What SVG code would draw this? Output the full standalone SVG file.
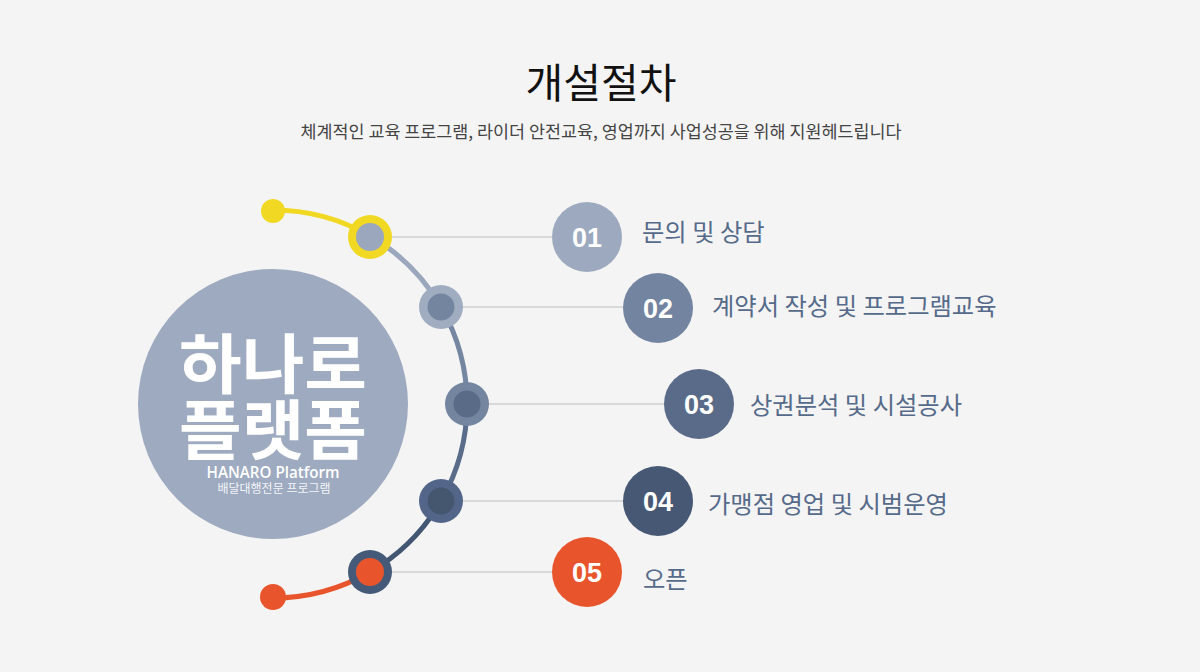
<svg xmlns="http://www.w3.org/2000/svg" width="1200" height="672" viewBox="0 0 1200 672">
<style>
.kr{font-family:"Noto Sans CJK KR","Noto Sans",sans-serif}
.title{font-size:41px;fill:#111}
.sub{font-size:17px;fill:#444}
.lbl{font-size:24.3px;fill:#566a8a}
.num{font-family:"Liberation Sans",Arial,sans-serif;font-weight:bold;font-size:27px;fill:#fff;text-anchor:middle}
.guide{stroke:#d9d9d9;stroke-width:2}
.arc{fill:none;stroke-width:5;stroke-linecap:round}
.logo{font-family:"Noto Sans CJK KR","Noto Sans",sans-serif;fill:#fff;text-anchor:middle}
</style>
<rect width="1200" height="672" fill="#f4f4f4"/>
<g id="header">
<text class="kr title" x="601" y="98" text-anchor="middle">개설절차</text>
<text class="kr sub" x="601" y="138" text-anchor="middle" textLength="601" lengthAdjust="spacingAndGlyphs">체계적인 교육 프로그램, 라이더 안전교육, 영업까지 사업성공을 위해 지원헤드립니다</text>
</g>
<g id="center-logo">
<circle cx="273" cy="404" r="135" fill="#9eaabf"/>
<text class="logo" x="273" y="388" font-size="65" font-weight="bold" textLength="188" lengthAdjust="spacingAndGlyphs">하나로</text>
<text class="logo" x="273" y="454" font-size="65" font-weight="bold" textLength="188" lengthAdjust="spacingAndGlyphs">플랫폼</text>
<text class="logo" x="273" y="478" font-size="16" font-weight="600" textLength="133" lengthAdjust="spacingAndGlyphs" style="font-family:'Open Sans','Noto Sans',sans-serif">HANARO Platform</text>
<text class="logo" x="274" y="493" font-size="12" fill-opacity="0.9">배달대행전문 프로그램</text>
</g>
<g id="connectors">
<line class="guide" x1="370" y1="237" x2="552" y2="237"/>
<line class="guide" x1="441" y1="307" x2="623" y2="307"/>
<line class="guide" x1="467" y1="404" x2="664" y2="404"/>
<line class="guide" x1="441" y1="501" x2="623" y2="501"/>
<line class="guide" x1="370" y1="572" x2="552" y2="572"/>
<path class="arc" stroke="#f1d923" d="M273,210 A194,194 0 0 1 370,236"/>
<path class="arc" stroke="#9aa7bc" d="M370,236 A194,194 0 0 1 441,307"/>
<path class="arc" stroke="#7486a0" d="M441,307 A194,194 0 0 1 467,404"/>
<path class="arc" stroke="#5a6c89" d="M467,404 A194,194 0 0 1 441,501"/>
<path class="arc" stroke="#435672" d="M441,501 A194,194 0 0 1 370,572"/>
<path class="arc" stroke="#e8552d" d="M370,572 A194,194 0 0 1 273,598"/>
</g>
<g id="dot-start"><circle cx="273" cy="211" r="12" fill="#f1d923"/></g>
<g id="dot-end"><circle cx="273" cy="597" r="13" fill="#e8552d"/></g>
<g id="ring-1"><circle cx="370" cy="237" r="22" fill="#f1d923"/><circle cx="370" cy="237" r="14" fill="#9aa7bc"/></g>
<g id="ring-2"><circle cx="441" cy="307" r="22" fill="#a0acc0"/><circle cx="441" cy="307" r="13.5" fill="#74869f"/></g>
<g id="ring-3"><circle cx="467" cy="404" r="22" fill="#7485a0"/><circle cx="467" cy="404" r="13.5" fill="#5a6b88"/></g>
<g id="ring-4"><circle cx="441" cy="501" r="22" fill="#53668a"/><circle cx="441" cy="501" r="13.5" fill="#45566f"/></g>
<g id="ring-5"><circle cx="370" cy="572" r="22" fill="#455a78"/><circle cx="370" cy="572" r="14" fill="#e8552d"/></g>
<g id="step-01">
<circle cx="587" cy="237" r="35" fill="#9ca9be"/>
<text class="num" x="587" y="247">01</text>
<text class="kr lbl" x="642" y="241">문의 및 상담</text>
</g>
<g id="step-02">
<circle cx="658" cy="308" r="35" fill="#72849f"/>
<text class="num" x="658" y="318">02</text>
<text class="kr lbl" x="712" y="315">계약서 작성 및 프로그램교육</text>
</g>
<g id="step-03">
<circle cx="699" cy="404" r="35" fill="#596b88"/>
<text class="num" x="699" y="414">03</text>
<text class="kr lbl" x="750" y="414">상권분석 및 시설공사</text>
</g>
<g id="step-04">
<circle cx="658" cy="501" r="35" fill="#465874"/>
<text class="num" x="658" y="511">04</text>
<text class="kr lbl" x="708" y="513">가맹점 영업 및 시범운영</text>
</g>
<g id="step-05">
<circle cx="587" cy="572" r="35" fill="#e8552d"/>
<text class="num" x="587" y="582">05</text>
<text class="kr lbl" x="643" y="588">오픈</text>
</g>
</svg>
